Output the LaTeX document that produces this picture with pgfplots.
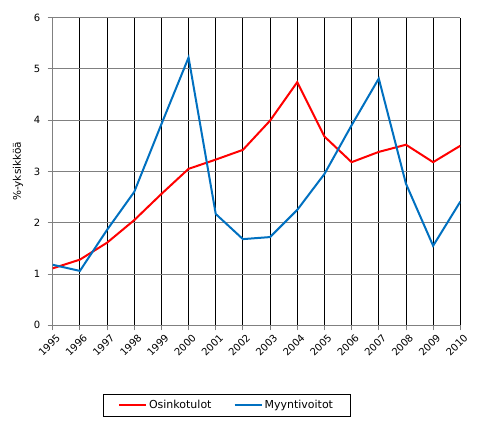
\documentclass[border=0pt]{standalone}
\usepackage{fontspec}
\setmainfont{DejaVu Sans}
\usepackage{pgfplots}
\pgfplotsset{compat=1.18}
\definecolor{myred}{RGB}{255,0,0}
\definecolor{myblue}{RGB}{0,112,192}
\definecolor{gridgray}{RGB}{128,128,128}
\begin{document}
\begin{tikzpicture}
\path[use as bounding box] (-52.7pt,-99.7pt) rectangle (435.3pt,325.3pt);
\begin{axis}[
  at={(0,0)}, anchor=south west,
  scale only axis, width=407.6pt, height=307.8pt,
  xmin=1995, xmax=2010, ymin=0, ymax=6,
  xtick={1995,...,2010}, ytick={0,...,6},
  /pgf/number format/assume math mode=true,
  xticklabel={\pgfmathprintnumber[1000 sep={}]{\tick}},
  tick label style={font=\fontsize{10}{12}\selectfont},
  x tick label style={rotate=45, anchor=north east, inner sep=0pt, yshift=-4pt},
  y tick label style={xshift=-4pt},
  tick align=outside, major tick length=5pt,
  tick style={gridgray, line width=0.8pt},
  axis line style={gridgray, line width=0.8pt},
  xmajorgrids, ymajorgrids,
  x grid style={black, line width=0.8pt},
  y grid style={gridgray, line width=0.8pt},
  axis x line*=bottom, axis y line*=left,
  ylabel={\%-yksikköä},
  ylabel style={font=\fontsize{10.5}{12.5}\selectfont, at={(axis description cs:0,0.5)}, anchor=south, yshift=26pt},
  legend style={font=\fontsize{11}{13}\selectfont, at={(0.4265,-0.26)}, anchor=center, legend columns=2,
    line width=0.8pt, inner xsep=15pt, inner ysep=4pt,
    /tikz/every even column/.append style={column sep=20pt}},
  legend cell align=left,
  legend image code/.code={\draw[line width=2pt] (0pt,0pt) -- (27pt,0pt);},
]
\addplot[color=myred, line width=2pt] coordinates {
(1995,1.11) (1996,1.28) (1997,1.61) (1998,2.05) (1999,2.56) (2000,3.05)
(2001,3.23) (2002,3.42) (2003,3.99) (2004,4.74) (2005,3.68) (2006,3.18)
(2007,3.38) (2008,3.52) (2009,3.18) (2010,3.50)};
\addlegendentry{Osinkotulot}
\addplot[color=myblue, line width=2pt] coordinates {
(1995,1.18) (1996,1.06) (1997,1.86) (1998,2.60) (1999,3.92) (2000,5.22)
(2001,2.17) (2002,1.68) (2003,1.72) (2004,2.25) (2005,2.95) (2006,3.90)
(2007,4.81) (2008,2.76) (2009,1.55) (2010,2.41)};
\addlegendentry{Myyntivoitot}
\end{axis}
\end{tikzpicture}
\end{document}
